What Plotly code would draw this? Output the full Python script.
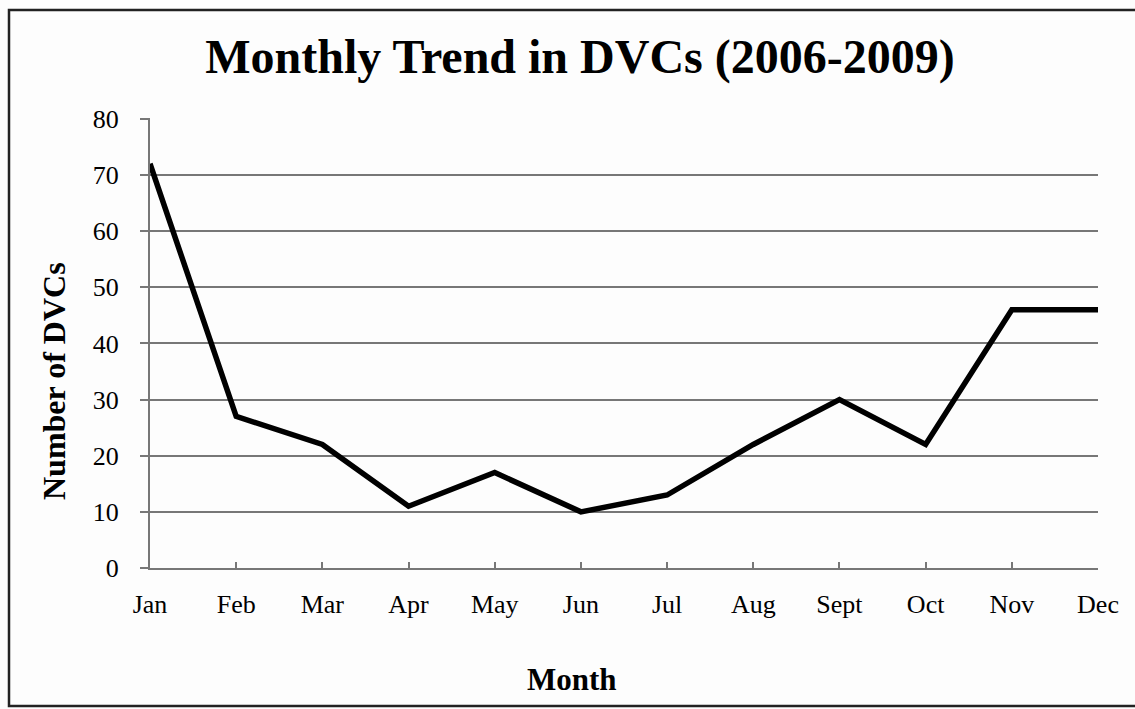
import plotly.graph_objects as go

months = ["Jan", "Feb", "Mar", "Apr", "May", "Jun", "Jul", "Aug", "Sept", "Oct", "Nov", "Dec"]
dvcs = [72, 27, 22, 11, 17, 10, 13, 22, 30, 22, 46, 46]
y_ticks = [0, 10, 20, 30, 40, 50, 60, 70, 80]

W, H = 1135, 709
L, R, T, B = 150, 37, 118, 141
PW, PH = W - L - R, H - T - B
FONT = "Liberation Serif, Times New Roman, serif"

x_idx = list(range(len(months)))

fig = go.Figure()
fig.add_trace(go.Scatter(
    x=x_idx, y=dvcs, mode="lines",
    line=dict(color="black", width=5.5),
    showlegend=False, hoverinfo="skip",
))

fig.update_layout(
    width=W, height=H,
    margin=dict(l=L, r=R, t=T, b=B),
    paper_bgcolor="#fdfdfd", plot_bgcolor="#fdfdfd",
    font=dict(family=FONT, color="black"),
    title=dict(
        text="<b>Monthly Trend in DVCs (2006-2009)</b>",
        font=dict(family=FONT, size=48, color="black"),
        x=580 / W, xanchor="center",
        y=1 - 56 / H, yanchor="middle", yref="container",
    ),
    xaxis=dict(
        range=[0, len(months) - 1],
        tickmode="array", tickvals=x_idx, ticktext=months,
        ticks="inside", ticklen=6, tickcolor="#777", tickwidth=1.5,
        showline=True, linecolor="#777", linewidth=2,
        showgrid=False, zeroline=False,
        tickfont=dict(family=FONT, size=26, color="black"),
        ticklabelstandoff=12,
    ),
    yaxis=dict(
        range=[0, 80.15],
        tickmode="array", tickvals=y_ticks,
        ticks="outside", ticklen=8, tickcolor="#777", tickwidth=1.5,
        showline=True, linecolor="#777", linewidth=2,
        showgrid=True, gridcolor="#777", gridwidth=1.5,
        zeroline=False,
        tickfont=dict(family=FONT, size=26, color="black"),
        ticklabelstandoff=16,
    ),
    shapes=[dict(
        type="rect", xref="paper", yref="paper",
        x0=(9 - L) / PW, x1=(1160 - L) / PW,
        y0=-(706 - (H - B)) / PH, y1=1 + (T - 10) / PH,
        line=dict(color="#222", width=2.5), layer="below",
    )],
    annotations=[
        dict(
            text="<b>Number of DVCs</b>", textangle=-90,
            xref="paper", yref="paper",
            x=(54 - L) / PW, y=1 - (381 - T) / PH,
            xanchor="center", yanchor="middle", showarrow=False,
            font=dict(family=FONT, size=32, color="black"),
        ),
        dict(
            text="<b>Month</b>",
            xref="paper", yref="paper",
            x=(572 - L) / PW, y=-(679 - (H - B)) / PH,
            xanchor="center", yanchor="middle", showarrow=False,
            font=dict(family=FONT, size=31, color="black"),
        ),
    ],
)

fig.write_html("out.html")
